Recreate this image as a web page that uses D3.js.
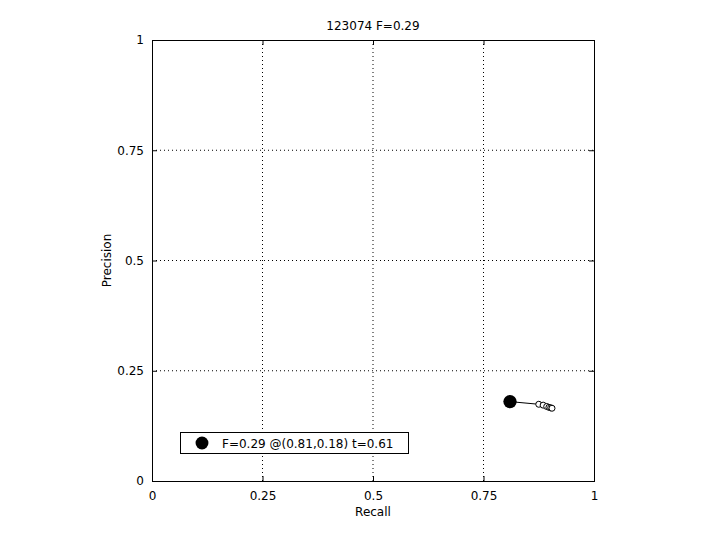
<!DOCTYPE html>
<html><head><meta charset="utf-8">
<script src="https://cdn.jsdelivr.net/npm/d3@7"></script>
<style>body{margin:0;background:#fff}svg{font-family:"DejaVu Sans",sans-serif}</style>
</head><body><div id="c"></div>
<script>
const titleText = "123074 F=0.29";
const xTicks = [0, 0.25, 0.5, 0.75, 1];
const yTicks = [0, 0.25, 0.5, 0.75, 1];
const tickLabels = ["0", "0.25", "0.5", "0.75", "1"];
const curveRecall = [0.81, 0.875, 0.885, 0.893, 0.898, 0.902, 0.905];
const curvePrecision = [0.18, 0.174, 0.172, 0.169, 0.167, 0.166, 0.165];
const bestPoint = {recall: 0.81, precision: 0.18};
const legendText = "F=0.29 @(0.81,0.18) t=0.61";

const W = 720, H = 540;
const m = {l: 152, r: 594, t: 40, b: 481};
const FF = "DejaVu Sans, sans-serif";
const svg = d3.select("#c").append("svg").attr("width", W).attr("height", H);
const x = d3.scaleLinear().domain([0, 1]).range([m.l, m.r]);
const y = d3.scaleLinear().domain([0, 1]).range([m.b, m.t]);

// grid
const g = svg.append("g");
xTicks.slice(1, -1).forEach(v => g.append("line").attr("x1", x(v)).attr("x2", x(v)).attr("y1", m.t).attr("y2", m.b)
  .attr("stroke", "#000").attr("stroke-width", 1).attr("stroke-dasharray", "1,3"));
yTicks.slice(1, -1).forEach(v => g.append("line").attr("y1", y(v)).attr("y2", y(v)).attr("x1", m.l).attr("x2", m.r)
  .attr("stroke", "#000").attr("stroke-width", 1).attr("stroke-dasharray", "1,3"));

// axes
const fmt = (d, i) => tickLabels[i];
svg.append("g").attr("transform", `translate(0,${m.b})`)
  .call(d3.axisBottom(x).tickValues(xTicks).tickFormat(fmt).tickSizeInner(-5).tickSizeOuter(0).tickPadding(10))
  .call(a => a.select(".domain").remove());
svg.append("g").attr("transform", `translate(${m.l},0)`)
  .call(d3.axisLeft(y).tickValues(yTicks).tickFormat(fmt).tickSizeInner(-5).tickSizeOuter(0).tickPadding(8))
  .call(a => a.select(".domain").remove());
svg.append("g").attr("transform", `translate(0,${m.t})`)
  .call(d3.axisTop(x).tickValues(xTicks).tickFormat("").tickSizeInner(-5).tickSizeOuter(0))
  .call(a => a.select(".domain").remove());
svg.append("g").attr("transform", `translate(${m.r},0)`)
  .call(d3.axisRight(y).tickValues(yTicks).tickFormat("").tickSizeInner(-5).tickSizeOuter(0))
  .call(a => a.select(".domain").remove());
svg.selectAll(".tick text").attr("font-size", 12).attr("fill", "#000").attr("font-family", FF);
svg.selectAll(".tick line").attr("stroke", "#000");

svg.append("rect").attr("x", m.l + 0.5).attr("y", m.t + 0.5).attr("width", m.r - m.l).attr("height", m.b - m.t)
  .attr("fill", "none").attr("stroke", "#000").attr("stroke-width", 1);

// curve
const pts = curveRecall.map((r, i) => [r, curvePrecision[i]]);
svg.append("path").datum(pts).attr("d", d3.line().x(d => x(d[0])).y(d => y(d[1])))
  .attr("fill", "none").attr("stroke", "#000").attr("stroke-width", 1);
svg.selectAll(".pt").data(pts.slice(1)).enter().append("circle")
  .attr("cx", d => x(d[0])).attr("cy", d => y(d[1])).attr("r", 3)
  .attr("fill", "#fff").attr("stroke", "#000").attr("stroke-width", 1);
svg.append("path").attr("d", d3.symbol(d3.symbolCircle, 140)())
  .attr("transform", `translate(${x(bestPoint.recall)},${y(bestPoint.precision)})`).attr("fill", "#000");

// title and labels
svg.append("text").attr("x", (m.l + m.r) / 2).attr("y", 30).attr("text-anchor", "middle").attr("font-size", 12).text(titleText);
svg.append("text").attr("x", (m.l + m.r) / 2).attr("y", 516).attr("text-anchor", "middle").attr("font-size", 12).text("Recall");
svg.append("text").attr("transform", `translate(111,${(m.t + m.b) / 2}) rotate(-90)`).attr("text-anchor", "middle").attr("font-size", 12).text("Precision");

// legend
const lg = svg.append("g");
lg.append("rect").attr("x", 180.5).attr("y", 432.5).attr("width", 228).attr("height", 21).attr("fill", "#fff").attr("stroke", "#000");
lg.append("path").attr("d", d3.symbol(d3.symbolCircle, 130)()).attr("transform", "translate(202,443)").attr("fill", "#000");
lg.append("text").attr("x", 222).attr("y", 447.5).attr("font-size", 12).text(legendText);
</script></body></html>
